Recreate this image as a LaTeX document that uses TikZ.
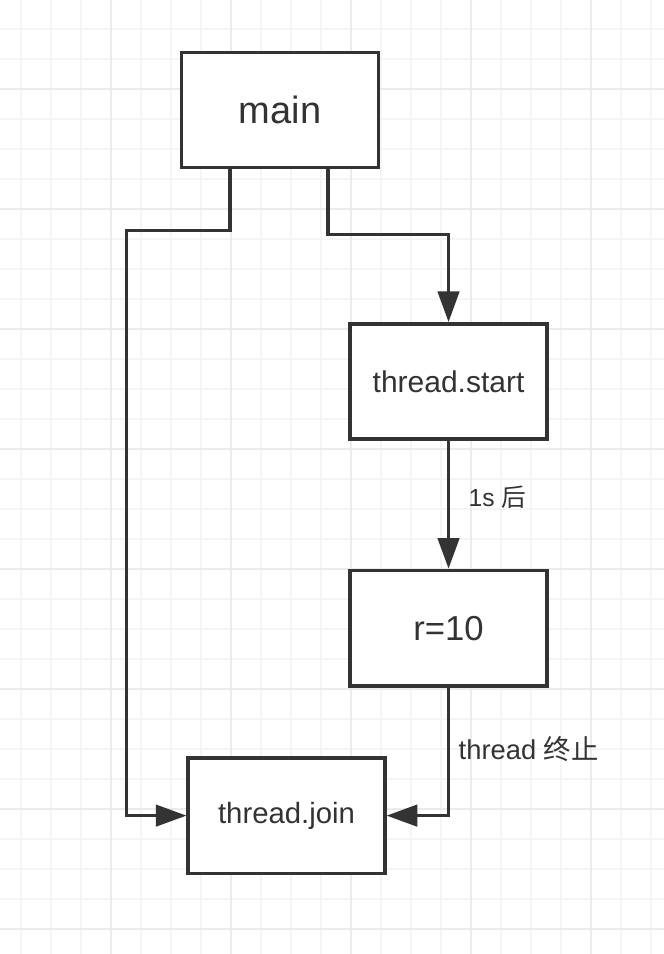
\documentclass[tikz,border=0pt]{standalone}
\usepackage{fontspec}
\setmainfont{Liberation Sans}
\newfontfamily\cjk{Noto Sans CJK SC}
\usetikzlibrary{arrows.meta, positioning}
\definecolor{ink}{HTML}{333333}
\definecolor{gridminor}{HTML}{F5F5F5}
\definecolor{gridmajor}{HTML}{EBEBEB}
\tikzstyle{block} = [rectangle, minimum width=147.5pt, minimum height=86.5pt, text centered, draw=ink, line width=2.6pt, text=ink, fill=white]
\tikzstyle{arrow} = [line width=2.6pt, draw=ink, -{Triangle[length=23pt, width=16pt]}]
\tikzstyle{lbl} = [text=ink, font=\fontsize{18.5pt}{21pt}\selectfont]
\begin{document}
\begin{tikzpicture}[x=0.75pt, y=-0.75pt, node distance=185pt]
\useasboundingbox (0,0) rectangle (664,954);
\fill[white] (0,0) rectangle (664,954);
% background grid
\foreach \gx in {21,51,...,651} \draw[gridminor, line width=1pt] (\gx,0) -- (\gx,954);
\foreach \gy in {29,59,...,929} \draw[gridminor, line width=1pt] (0,\gy) -- (664,\gy);
\foreach \gx in {111,231,...,591} \draw[gridmajor, line width=1pt] (\gx,0) -- (\gx,954);
\foreach \gy in {89,209,...,929} \draw[gridmajor, line width=1pt] (0,\gy) -- (664,\gy);

\node (main) [block, font=\fontsize{28.5pt}{32pt}\selectfont] at (280,110) {main};
\node (start) [block, below of=main, xshift=126.4pt, yshift=-18.6pt, font=\fontsize{22.5pt}{26pt}\selectfont] {thread.start};
\node (rten) [block, below of=start, font=\fontsize{26pt}{30pt}\selectfont] {r=10};
\node (join) [block, below of=rten, xshift=-121.5pt, yshift=44.4pt, font=\fontsize{22pt}{26pt}\selectfont] {thread.join};

\draw [arrow] ([xshift=-37.5pt]main.south) -- ++(0,-45.75pt) -| ([xshift=-45pt]join.west) -- (join.west);
\draw [arrow] ([xshift=36pt]main.south) -- ++(0,-48.75pt) -| (start.north);
\draw [arrow] (start) -- node[lbl, right, xshift=10.5pt, yshift=6pt] {1s {\cjk 后}} (rten);
\draw [arrow] (rten) |- node[lbl, right, pos=0.24, xshift=3pt, font=\fontsize{20.5pt}{23pt}\selectfont] {thread {\cjk 终止}} (join);
\end{tikzpicture}
\end{document}
